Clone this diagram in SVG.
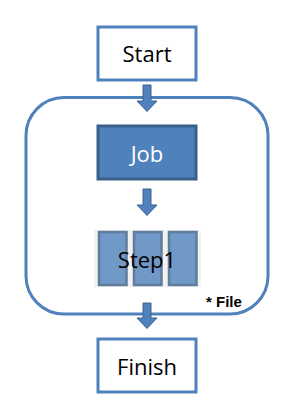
<svg xmlns="http://www.w3.org/2000/svg" width="295" height="414" viewBox="0 0 295 414">
<style>
.box{fill:#fff;stroke:#4F81BD;stroke-width:3}
.lbl{font-family:"Open Sans","Liberation Sans",sans-serif;font-size:22px;text-anchor:middle;fill:#000}
.arr{fill:#4F81BD;stroke:#3A6293;stroke-width:1}
.step{fill:#7199C8;stroke:#607D9E;stroke-width:2.5}
</style>
<rect width="295" height="414" fill="#fff"/>
<g id="container">
<rect x="26" y="97.5" width="242" height="216.5" rx="38" ry="38" fill="none" stroke="#4F81BD" stroke-width="3"/>
<text x="206" y="306.5" font-family="'Liberation Sans',Arial,sans-serif" font-size="15" font-weight="bold" fill="#000">* File</text>
</g>
<g id="start">
<rect class="box" x="98" y="27" width="98" height="53"/>
<text class="lbl" x="147" y="61.5">Start</text>
</g>
<g id="job">
<rect x="98" y="126" width="98" height="53" fill="#4F81BD" stroke="#3A5F8B" stroke-width="3"/>
<text class="lbl" x="147" y="161.5" style="fill:#fff">Job</text>
</g>
<g id="step1">
<rect x="94" y="230" width="107" height="57" fill="#F2F2F2"/>
<rect class="step" x="99" y="232" width="27.5" height="53"/>
<rect class="step" x="134" y="232" width="27.5" height="53"/>
<rect class="step" x="169" y="232" width="27.5" height="53"/>
<text class="lbl" x="147" y="268">Step1</text>
</g>
<g id="finish">
<rect class="box" x="98" y="339" width="98" height="53"/>
<text class="lbl" x="147" y="375">Finish</text>
</g>
<g id="connectors">
<path class="arr" d="M143,85 H151 V101 H157 L147,111.5 L137,101 H143 Z"/>
<path class="arr" d="M143,189 H151 V205 H157 L147,215.5 L137,205 H143 Z"/>
<path class="arr" d="M143,303 H151 V318 H157 L147,328.5 L137,318 H143 Z"/>
</g>
</svg>
